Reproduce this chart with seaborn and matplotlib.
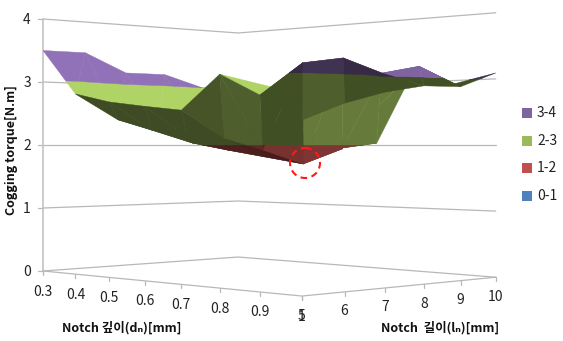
import numpy as np
import matplotlib
matplotlib.use('Agg')
import matplotlib.pyplot as plt
from matplotlib.patches import Circle
from matplotlib.collections import PolyCollection
import seaborn as sns

# DATA
dn_labels = ['0.3', '0.4', '0.5', '0.6', '0.7', '0.8', '0.9', '1']
ln_labels = ['5', '6', '7', '8', '9', '10']
z_ticks = [0, 1, 2, 3, 4]
band_names = ['0-1', '1-2', '2-3', '3-4']
band_colors = ['#4F81BD', '#C0504D', '#9BBB59', '#8064A2']

# cogging torque per notch depth, columns are notch length 5..10
torque_d03 = [3.50, 3.50, 3.20, 3.20, 3.00, 2.90]
torque_d04 = [2.79, 2.40, 2.30, 2.20, 2.30, 2.40]
torque_d05 = [2.65, 2.23, 2.03, 2.00, 2.10, 2.20]
torque_d06 = [2.57, 2.12, 1.92, 2.00, 2.00, 2.10]
torque_d07 = [2.50, 2.10, 1.82, 1.90, 1.95, 2.03]
torque_d08 = [2.99, 1.93, 1.72, 1.94, 2.62, 3.22]
torque_d09 = [2.68, 3.15, 3.25, 3.06, 3.19, 2.95]
torque_d10 = [2.33, 2.57, 2.74, 2.85, 2.86, 3.09]
torque = np.array([torque_d03, torque_d04, torque_d05, torque_d06,
                   torque_d07, torque_d08, torque_d09, torque_d10])

# facet brightness, rows dn cell, columns ln cell, two triangles per cell
shade_a = [[1.13, 1.13, 1.13, 1.13, 1.13],
           [0.40, 0.40, 0.40, 0.40, 0.40],
           [0.40, 0.40, 0.40, 0.40, 0.40],
           [0.40, 0.40, 0.40, 0.40, 0.40],
           [0.45, 0.38, 0.55, 0.55, 0.66],
           [0.50, 0.42, 0.66, 0.66, 1.00],
           [0.42, 0.50, 0.42, 1.00, 1.00]]
shade_b = [[1.13, 1.13, 1.13, 1.13, 1.13],
           [0.40, 0.40, 0.40, 0.40, 0.40],
           [0.40, 0.40, 0.40, 0.40, 0.40],
           [0.40, 0.40, 0.40, 0.40, 0.40],
           [0.50, 0.36, 0.55, 0.66, 0.66],
           [0.42, 0.66, 0.66, 0.66, 1.00],
           [0.50, 0.42, 0.42, 1.00, 0.42]]
# Bands of one facet that are not as bright as the rest of it: (row, col, triangle, band)
shade_band = {(5, 1, 0, 1): 0.62,
              (6, 3, 0, 2): 0.42,
              (6, 3, 1, 2): 0.42,
              (6, 4, 0, 2): 0.42}


# FUNCTION
def project(i, j, z):
    # Perspective of the chart box, the eye sits at torque 2
    a = i / 7
    b = j / 5
    w = 1 - 0.14 * a + 0.11 * b
    x = (43 + 216.7 * a + 221.2 * b) / w
    floor = (271 - 16.4 * a + 14.3 * b) / w
    return x, 145 + (floor - 145) * (1 - z / 2)


def clipBand(poly, lo, hi):
    # Keep the part of a facet between two torque levels
    for level, sign in ((lo, 1), (hi, -1)):
        out = []
        for k in range(len(poly)):
            p, q = poly[k], poly[(k + 1) % len(poly)]
            dp, dq = sign * (p[2] - level), sign * (q[2] - level)
            if dp >= 0:
                out.append(p)
            if dp * dq < 0:
                t = dp / (dp - dq)
                out.append(tuple(p[n] + t * (q[n] - p[n]) for n in range(3)))
        poly = out
        if not poly:
            return []
    return poly


def facets():
    tris = []
    for i in range(7):
        for j in range(5):
            pts = [(i + n, j + m, torque[i + n, j + m]) for n, m in ((0, 0), (1, 0), (0, 1), (1, 1))]
            tris.append((pts[0], pts[1], pts[2], shade_a[i][j], (i, j, 0)))
            tris.append((pts[1], pts[3], pts[2], shade_b[i][j], (i, j, 1)))
    # Far facets first
    tris.sort(key=lambda t: sum(-p[0] * 0.02 + p[1] * 0.022 for p in t[:3]), reverse=True)
    # Sliver lit behind the ridge at ln=5
    corner = (6, 0.25, torque[6, 0] + 0.25 * (torque[6, 1] - torque[6, 0]))
    tris.insert(0, ((5, 0, torque[5, 0]), (6, 0, torque[6, 0]), corner, 1.13, (-1, -1, 0)))
    return tris


def drawSurface(ax):
    polys = []
    colors = []
    for p0, p1, p2, shade, key in facets():
        for k in range(4):
            part = clipBand([p0, p1, p2], k, k + 1)
            if len(part) < 3:
                continue
            factor = shade_band.get(key + (k,), shade)
            polys.append([project(*p) for p in part])
            colors.append(np.clip(np.array(matplotlib.colors.to_rgb(band_colors[k])) * factor, 0, 1))
    ax.add_collection(PolyCollection(polys, facecolors=colors, edgecolors=colors, linewidths=0.3, zorder=3))


def drawBox(ax):
    grid = '#b8b8b8'
    for z in z_ticks:
        pts = [project(0, 0, z), project(0, 5, z), project(7, 5, z)]
        sns.lineplot(x=[p[0] for p in pts], y=[p[1] for p in pts], sort=False, estimator=None,
                     color=grid, linewidth=0.9, ax=ax, zorder=1)
        x, y = project(0, 0, z)
        ax.plot([x - 5, x], [y, y], color=grid, lw=0.9, zorder=1)
        ax.text(27, y + 1, str(z), ha='center', va='center', fontsize=10, color='#222222')
    left = [project(0, 0, 0), project(0, 0, 4)]
    ax.plot([p[0] for p in left], [p[1] for p in left], color='#c4c4c4', lw=1.2, zorder=1)

    floor = [project(0, 0, 0), project(7, 0, 0), project(7, 5, 0)]
    sns.lineplot(x=[p[0] for p in floor], y=[p[1] for p in floor], sort=False, estimator=None,
                 color=grid, linewidth=0.9, ax=ax, zorder=1)
    for i, label in enumerate(dn_labels):
        x, y = project(i, 0, 0)
        ax.plot([x, x], [y, y + 4], color=grid, lw=0.9)
        ax.text(x, y + 20.5, label, ha='center', va='center', fontsize=10, color='#222222')
    for j, label in enumerate(ln_labels):
        x, y = project(7, j, 0)
        ax.plot([x, x], [y, y + 4], color=grid, lw=0.9)
        ax.text(x, y + 19.5, label, ha='center', va='center', fontsize=10, color='#222222')


def drawLegend(ax):
    for k, y in zip(range(3, -1, -1), [113, 141, 168, 196]):
        sns.scatterplot(x=[527], y=[y], marker='s', s=48, color=band_colors[k], linewidth=0, ax=ax)
        ax.text(537, y, band_names[k], ha='left', va='center', fontsize=10, color='#222222')


def genFigure():
    sns.set_theme(style='white')
    plt.rcParams['font.family'] = ['Noto Sans CJK KR', 'DejaVu Sans']
    fig, ax = plt.subplots(figsize=(5.63, 3.41), dpi=100)
    fig.subplots_adjust(0, 0, 1, 1)

    drawBox(ax)
    drawSurface(ax)
    drawLegend(ax)

    ax.add_patch(Circle((305, 163), 15, fill=False, edgecolor='#ff1a1a', linewidth=1.5,
                        linestyle=(0, (3.2, 2.2)), zorder=5))

    ax.text(12, 150, 'Cogging torque[N.m]', rotation=90, ha='center', va='center',
            fontsize=9, fontweight='bold', color='#111111')
    ax.text(122, 328, 'Notch 깊이(dₙ)[mm]', ha='center', va='center',
            fontsize=9, fontweight='bold', color='#111111')
    ax.text(440, 328, 'Notch  길이(lₙ)[mm]', ha='center', va='center',
            fontsize=9, fontweight='bold', color='#111111')

    ax.set_xlim(0, 563)
    ax.set_ylim(341, 0)
    ax.axis('off')
    fig.savefig('out.png', dpi=100)
    plt.close()


# MAIN
if __name__ == '__main__':
    genFigure()
